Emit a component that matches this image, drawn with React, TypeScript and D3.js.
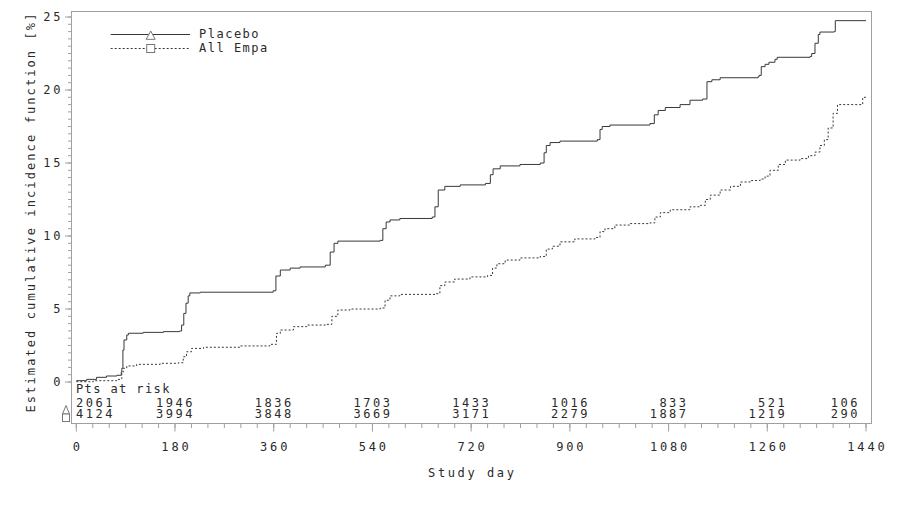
import React from "react";
import * as d3 from "d3";

// ---- data ----
const placebo: [number, number][] = [
  [0, 0.09], [19, 0.18], [37, 0.32], [55, 0.41], [74, 0.46], [82, 0.7], [83, 0.94], [85, 2.19],
  [87, 2.88], [92, 3.22], [95, 3.34], [122, 3.4], [159, 3.45], [188, 3.49], [192, 3.9], [196, 4.7],
  [200, 5.4], [204, 5.9], [207, 6.1], [226, 6.15], [359, 6.25], [364, 7.26], [372, 7.67], [390, 7.8],
  [408, 7.88], [454, 8.0], [463, 8.9], [470, 9.5], [477, 9.65], [554, 9.7], [559, 10.5], [565, 10.96],
  [572, 11.1], [590, 11.2], [649, 11.3], [654, 12.0], [660, 13.15], [672, 13.4], [700, 13.5],
  [746, 13.6], [755, 14.2], [760, 14.6], [773, 14.8], [809, 14.9], [846, 15.0], [853, 15.7],
  [857, 16.2], [864, 16.4], [882, 16.5], [950, 16.6], [955, 17.3], [959, 17.5], [973, 17.6],
  [1046, 17.7], [1054, 18.3], [1061, 18.6], [1074, 18.8], [1101, 19.0], [1119, 19.3], [1142, 19.38],
  [1150, 20.57], [1159, 20.7], [1174, 20.84], [1243, 20.9], [1245, 21.0], [1249, 21.6], [1256, 21.76],
  [1263, 21.9], [1274, 22.1], [1278, 22.24], [1338, 22.3], [1341, 22.5], [1347, 23.2], [1353, 23.8],
  [1356, 23.97], [1382, 24.0], [1384, 24.75], [1440, 24.75],
];

const empa: [number, number][] = [
  [0, 0.02], [31, 0.09], [74, 0.18], [80, 0.23], [83, 0.7], [86, 0.94], [92, 1.1], [110, 1.21],
  [153, 1.28], [186, 1.32], [195, 1.73], [201, 2.07], [210, 2.3], [232, 2.38], [299, 2.47],
  [353, 2.58], [365, 3.33], [372, 3.56], [396, 3.79], [420, 3.9], [454, 3.95], [466, 4.5],
  [477, 4.93], [499, 5.0], [554, 5.07], [563, 5.6], [572, 5.9], [590, 6.0], [654, 6.05], [663, 6.6],
  [672, 6.85], [690, 7.05], [718, 7.2], [750, 7.3], [759, 7.8], [767, 8.1], [782, 8.35], [809, 8.5],
  [846, 8.6], [857, 9.1], [868, 9.3], [882, 9.6], [909, 9.8], [946, 9.9], [955, 10.3], [964, 10.5],
  [982, 10.75], [1010, 10.85], [1046, 10.9], [1055, 11.3], [1065, 11.6], [1083, 11.8], [1119, 12.0],
  [1138, 12.1], [1147, 12.5], [1156, 12.8], [1174, 13.15], [1193, 13.4], [1211, 13.7], [1229, 13.8],
  [1247, 13.9], [1256, 14.1], [1265, 14.5], [1280, 14.9], [1293, 15.2], [1320, 15.3], [1335, 15.5],
  [1347, 15.75], [1356, 16.2], [1364, 16.6], [1371, 17.4], [1380, 18.4], [1388, 19.0], [1429, 19.0],
  [1434, 19.5], [1440, 19.5],
];

const xTicks = [0, 180, 360, 540, 720, 900, 1080, 1260, 1440];
const yTicks = [0, 5, 10, 15, 20, 25];
const riskPlacebo = [2061, 1946, 1836, 1703, 1433, 1016, 833, 521, 106];
const riskEmpa = [4124, 3994, 3848, 3669, 3171, 2279, 1887, 1219, 290];
const seriesNames = ["Placebo", "All Empa"];

const FONT = "'DejaVu Sans Mono', 'Liberation Mono', monospace";
const TEXT = "#2a2a2a";
const LINE = "#383838";
const FRAME = "#a0a0a0";

export default function App() {
  const W = 904, H = 509;
  const left = 71.5, right = 871.5, top = 11.5, bottom = 423.5;
  const x = d3.scaleLinear().domain([0, 1440]).range([76.3, 866]);
  const y = d3.scaleLinear().domain([0, 25]).range([382, 17]);

  const line = d3
    .line<[number, number]>()
    .x((d) => x(d[0]))
    .y((d) => y(d[1]))
    .curve(d3.curveStepAfter);

  const xMinor = d3.range(0, 1441, 30);
  const yMinor = d3.range(0, 25.01, 0.5);

  const riskRightEdge = (v: number) => Math.min(x(v) + 20, 860);

  return (
    <svg
      width={W}
      height={H}
      style={{ position: "absolute", left: 0, top: 0, background: "#fff" }}
      fontFamily={FONT}
    >
      <rect x={0} y={0} width={W} height={H} fill="#fff" />
      {/* frame */}
      <rect x={left} y={top} width={right - left} height={bottom - top} fill="none" stroke={FRAME} strokeWidth={1} />

      {/* x ticks */}
      {xMinor.map((t) => (
        <line key={"xm" + t} x1={x(t)} x2={x(t)} y1={bottom} y2={bottom + 4.5} stroke={FRAME} />
      ))}
      {xTicks.map((t) => (
        <g key={"xt" + t}>
          <line x1={x(t)} x2={x(t)} y1={bottom} y2={bottom + 8} stroke={FRAME} />
          <text x={x(t)} dx={1.4} y={450.7} textAnchor="middle" fontSize={12} letterSpacing={2.8} fill={TEXT}>
            {t}
          </text>
        </g>
      ))}

      {/* y ticks */}
      {yMinor.map((t) => (
        <line key={"ym" + t} x1={left - 3.5} x2={left} y1={y(t)} y2={y(t)} stroke={FRAME} />
      ))}
      {yTicks.map((t) => (
        <g key={"yt" + t}>
          <line x1={left - 6.5} x2={left} y1={y(t)} y2={y(t)} stroke={FRAME} />
          <text x={63.4} y={y(t) + 4.3} textAnchor="end" fontSize={12} letterSpacing={2.8} fill={TEXT}>
            {t}
          </text>
        </g>
      ))}

      {/* axis titles */}
      <text x={471} dx={1.3} y={476.7} textAnchor="middle" fontSize={12} letterSpacing={2.6} fill={TEXT}>
        Study day
      </text>
      <text
        transform={`translate(34.5,212) rotate(-90)`}
        textAnchor="middle"
        fontSize={12}
        letterSpacing={2.1}
        fill={TEXT}
      >
        Estimated cumulative incidence function [%]
      </text>

      {/* curves */}
      <path d={line(placebo) || ""} fill="none" stroke={LINE} strokeWidth={1} />
      <path d={line(empa) || ""} fill="none" stroke={LINE} strokeWidth={1} strokeDasharray="2,2" />

      {/* legend */}
      <line x1={110.7} x2={190} y1={34.5} y2={34.5} stroke={LINE} />
      <path d="M146.2,39.3 L150.7,31 L155.2,39.3 Z" fill="#fff" stroke="#777" />
      <text x={199} y={38} fontSize={12} letterSpacing={1.5} fill={TEXT}>
        {seriesNames[0]}
      </text>
      <line x1={110.7} x2={190} y1={48.5} y2={48.5} stroke={LINE} strokeDasharray="2,2" />
      <rect x={146.7} y={44.5} width={8} height={8} fill="#fff" stroke="#777" />
      <text x={199} y={52} fontSize={12} letterSpacing={1.5} fill={TEXT}>
        {seriesNames[1]}
      </text>

      {/* risk table */}
      <text x={76} y={392.7} fontSize={12} letterSpacing={1.4} fill={TEXT}>
        Pts at risk
      </text>
      {xTicks.map((t, i) =>
        i === 0 ? (
          <g key={"r" + t}>
            <text x={76} y={406.7} fontSize={12} letterSpacing={2.5} fill={TEXT}>{riskPlacebo[i]}</text>
            <text x={76} y={417.7} fontSize={12} letterSpacing={2.5} fill={TEXT}>{riskEmpa[i]}</text>
          </g>
        ) : (
          <g key={"r" + t}>
            <text x={riskRightEdge(t)} y={406.7} textAnchor="end" fontSize={12} letterSpacing={2.5} fill={TEXT}>
              {riskPlacebo[i]}
            </text>
            <text x={riskRightEdge(t)} y={417.7} textAnchor="end" fontSize={12} letterSpacing={2.5} fill={TEXT}>
              {riskEmpa[i]}
            </text>
          </g>
        )
      )}
      <path d="M62.5,414 L66,405.5 L69.5,414 Z" fill="#fff" stroke="#777" />
      <rect x={62.5} y={414} width={7} height={7.5} fill="#fff" stroke="#777" />
    </svg>
  );
}
